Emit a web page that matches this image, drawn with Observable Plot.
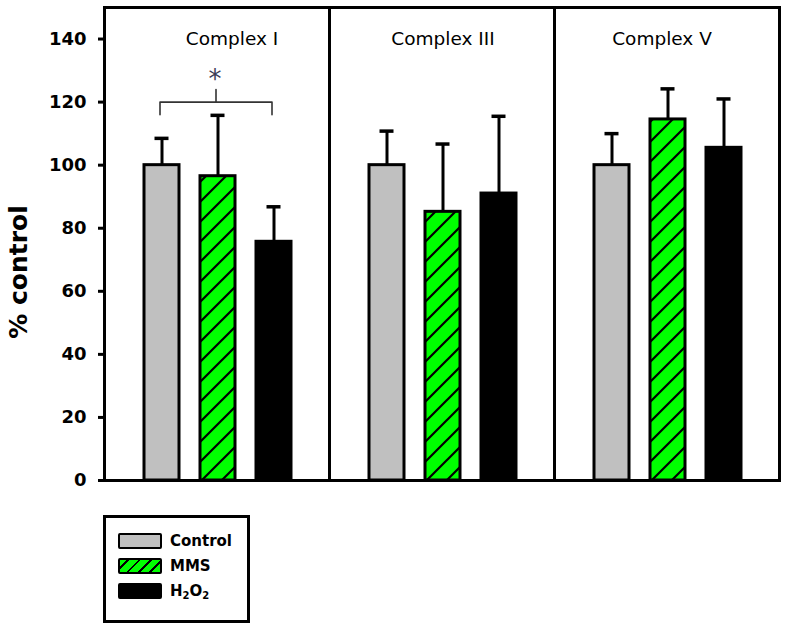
<!DOCTYPE html>
<html>
<head>
<meta charset="utf-8">
<script src="https://cdn.jsdelivr.net/npm/d3@7"></script>
<script src="https://cdn.jsdelivr.net/npm/@observablehq/plot@0.6"></script>
<style>
  html, body { margin: 0; padding: 0; background: #fff; }
  body { width: 788px; height: 628px; position: relative; overflow: hidden; font-family: "DejaVu Sans", sans-serif; }
  #legend { position: absolute; left: 103px; top: 515px; width: 141px; height: 102px; border: 3px solid #000; box-sizing: content-box; }
  .item { position: absolute; left: 12px; height: 16px; display: flex; align-items: center; }
  .sw { width: 40px; height: 12px; border: 2.5px solid #000; border-radius: 2px; margin-right: 8px; }
  .lab { font-weight: bold; font-size: 15px; color: #000; }
  .lab sub { font-size: 10px; vertical-align: -3px; }
</style>
</head>
<body>
<div id="chart"></div>
<div id="legend"></div>
<script>
const complexes = ["Complex I", "Complex III", "Complex V"];
const treatments = ["Control", "MMS", "H2O2"];
const controlMean = [100, 100, 100];
const mmsMean = [96.5, 85.2, 114.5];
const h2o2Mean = [75.7, 91.0, 105.5];
const controlUpper = [108.5, 110.8, 110.0];
const mmsUpper = [115.8, 106.7, 124.2];
const h2o2Upper = [86.8, 115.5, 121.0];
const yTicks = [0, 20, 40, 60, 80, 100, 120, 140];
const bracket = [["Control", 116], ["Control", 120], ["MMS", 120], ["MMS", 124], ["MMS", 120], ["H2O2", 120], ["H2O2", 116]];

const means = [controlMean, mmsMean, h2o2Mean];
const uppers = [controlUpper, mmsUpper, h2o2Upper];
const data = complexes.flatMap((c, i) => treatments.map((t, j) => ({
  complex: c, treatment: t, value: means[j][i], upper: uppers[j][i]
})));
const bracketData = bracket.map(([t, v]) => ({complex: "Complex I", treatment: t, value: v}));

const labelMark = (name, dx) => Plot.text([name], {fx: d => d, text: d => d, frameAnchor: "top", dy: 24, dx, fontSize: 18.5, fontWeight: "normal", fill: "#000"});

const svg = Plot.plot({
  width: 788,
  height: 490,
  marginLeft: 103,
  marginRight: 8,
  marginTop: 7,
  marginBottom: 10,
  style: {fontFamily: "'DejaVu Sans', sans-serif", fontSize: "18px", fontWeight: "bold", background: "#fff"},
  fx: {domain: complexes, padding: 0, axis: null},
  x: {domain: treatments, paddingInner: 0.375, paddingOuter: 0.6875, axis: null},
  y: {domain: [0, 150]},
  color: {domain: treatments, range: ["#c0c0c0", "url(#hatch)", "#000000"]},
  marks: [
    Plot.barY(data, {fx: "complex", x: "treatment", y: "value", fill: "treatment", stroke: "#000", strokeWidth: 3, dx: 1}),
    Plot.ruleX(data, {fx: "complex", x: "treatment", y1: "value", y2: "upper", stroke: "#000", strokeWidth: 3, dx: 1}),
    Plot.tickY(data, {fx: "complex", x: "treatment", y: "upper", stroke: "#000", strokeWidth: 3.5, insetLeft: 10.5, insetRight: 10.5, dx: 1}),
    Plot.line(bracketData, {fx: "complex", x: "treatment", y: "value", stroke: "#333", strokeWidth: 1.6, dx: -1, curve: "linear"}),
    Plot.text(["*"], {fx: () => "Complex I", x: () => "MMS", y: () => 127, text: d => d, fontSize: 26, fontWeight: "normal", fill: "#3c3c58", dx: -2}),
    labelMark("Complex I", 15),
    labelMark("Complex III", 1),
    labelMark("Complex V", -5),
    Plot.frame({stroke: "#000", strokeWidth: 3}),
    Plot.axisY({anchor: "left", facetAnchor: "left", ticks: yTicks, tickSize: 6, tickPadding: 12, strokeWidth: 3, fontSize: 18, fontWeight: "bold", label: null})
  ]
});

d3.select(svg).insert("defs", ":first-child").html(`
  <pattern id="hatch" patternUnits="userSpaceOnUse" width="20" height="20">
    <rect width="20" height="20" fill="#00ff00"></rect>
    <path d="M-5,5 L5,-5 M0,20 L20,0 M15,25 L25,15" stroke="#000" stroke-width="2.2"></path>
  </pattern>`);

d3.select(svg).append("text")
  .attr("transform", "translate(27,272) rotate(-90)")
  .attr("text-anchor", "middle")
  .attr("font-size", 25)
  .attr("font-weight", "bold")
  .attr("fill", "#000")
  .text("% control");

document.getElementById("chart").appendChild(svg);

// legend
const legendItems = [
  {key: "Control", html: "Control", bg: "#c0c0c0"},
  {key: "MMS", html: "MMS", bg: "repeating-linear-gradient(-45deg, #00ff00 0px, #00ff00 6px, #000 6px, #000 8px)"},
  {key: "H2O2", html: "H<sub>2</sub>O<sub>2</sub>", bg: "#000"}
];
const legend = document.getElementById("legend");
legendItems.forEach((it, i) => {
  const div = document.createElement("div");
  div.className = "item";
  div.style.top = (15 + i * 25) + "px";
  div.innerHTML = `<div class="sw" style="background:${it.bg}"></div><span class="lab">${it.html}</span>`;
  legend.appendChild(div);
});
</script>
</body>
</html>
